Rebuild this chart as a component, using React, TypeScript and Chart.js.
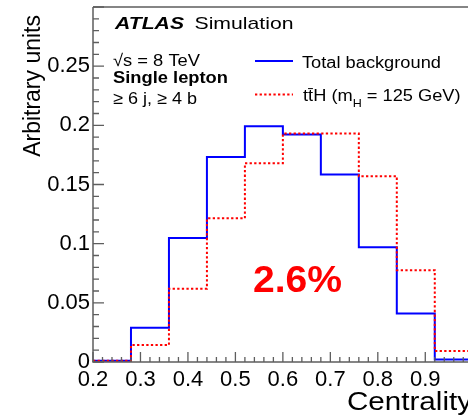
import React, { useEffect, useRef } from 'react';
import { Chart, registerables } from 'chart.js';

Chart.register(...registerables);

// ---- data ----
const binEdges = [0.2, 0.28, 0.36, 0.44, 0.52, 0.6, 0.68, 0.76, 0.84, 0.92, 1.0];
const totalBackground = [0.001, 0.0289, 0.1048, 0.1733, 0.1992, 0.1922, 0.1585, 0.0969, 0.041, 0.0022];
const ttH = [0.001, 0.0143, 0.062, 0.1214, 0.168, 0.193, 0.193, 0.157, 0.0775, 0.0093];
const xTicks = [0.2, 0.3, 0.4, 0.5, 0.6, 0.7, 0.8, 0.9];
const xTickLabels = ['0.2', '0.3', '0.4', '0.5', '0.6', '0.7', '0.8', '0.9'];
const yTicks = [0, 0.05, 0.1, 0.15, 0.2, 0.25];
const yTickLabels = ['0', '0.05', '0.1', '0.15', '0.2', '0.25'];
const legendLabels = ['Total background', 'tt\u0304H'];
const annotationText = '2.6%';

const X_MIN = 0.2;
const X_MAX = 0.99;
const Y_MIN = 0;
const Y_MAX = 0.3;
const X_MINOR = 0.02;
const Y_MINOR = 0.01;

const FONT = '"Liberation Sans", Arial, Helvetica, sans-serif';
const AXIS_COLOR = '#5e5e5e';

function toHist(vals: number[]) {
  const pts = vals.map((v, i) => ({ x: binEdges[i], y: v }));
  pts.push({ x: binEdges[binEdges.length - 1], y: vals[vals.length - 1] });
  return pts;
}

function drawText(
  ctx: CanvasRenderingContext2D,
  text: string,
  x: number,
  y: number,
  font: string,
  color: string,
  width?: number
) {
  ctx.save();
  ctx.font = font;
  ctx.fillStyle = color;
  ctx.textAlign = 'left';
  ctx.textBaseline = 'alphabetic';
  const w = ctx.measureText(text).width;
  const sx = width ? width / w : 1;
  ctx.translate(x, y);
  ctx.scale(sx, 1);
  ctx.fillText(text, 0, 0);
  ctx.restore();
  return w * sx;
}

const decorPlugin = {
  id: 'decor',
  afterDraw(chart: any) {
    const ctx: CanvasRenderingContext2D = chart.ctx;
    const { left, right, top, bottom } = chart.chartArea;
    const xs = chart.scales.x;
    const ys = chart.scales.y;

    ctx.save();
    ctx.setLineDash([]);
    ctx.strokeStyle = AXIS_COLOR;
    ctx.lineWidth = 1.5;
    ctx.beginPath();
    ctx.moveTo(left, top);
    ctx.lineTo(left, bottom);
    ctx.lineTo(right, bottom);
    ctx.moveTo(left, top);
    ctx.lineTo(right, top);
    ctx.stroke();

    // y ticks (inside)
    ctx.lineWidth = 1.3;
    ctx.beginPath();
    const ny = Math.round((Y_MAX - Y_MIN) / Y_MINOR);
    for (let k = 0; k <= ny; k++) {
      const v = Y_MIN + k * Y_MINOR;
      const py = ys.getPixelForValue(v);
      const major = k % 5 === 0;
      ctx.moveTo(left, py);
      ctx.lineTo(left + (major ? 11 : 6), py);
    }
    ctx.stroke();

    // x ticks (inside)
    ctx.lineWidth = 1.3;
    ctx.beginPath();
    const nx = Math.floor((X_MAX - X_MIN) / X_MINOR + 1e-6);
    for (let k = 0; k <= nx; k++) {
      const v = X_MIN + k * X_MINOR;
      const px = xs.getPixelForValue(v);
      const major = k % 5 === 0;
      ctx.moveTo(px, bottom);
      ctx.lineTo(px, bottom - (major ? 10 : 5));
    }
    ctx.stroke();
    ctx.restore();

    // axis titles
    ctx.save();
    ctx.font = `23px ${FONT}`;
    ctx.fillStyle = '#000';
    ctx.textAlign = 'right';
    ctx.textBaseline = 'alphabetic';
    ctx.translate(40, 15);
    ctx.rotate(-Math.PI / 2);
    ctx.fillText('Arbitrary units', 0, 0);
    ctx.restore();

    drawText(ctx, 'Centrality', 347, 410, `26px ${FONT}`, '#000', 125);

    // ATLAS label
    drawText(ctx, 'ATLAS', 115, 28.5, `italic bold 17px ${FONT}`, '#000', 69);
    drawText(ctx, 'Simulation', 194.5, 28.5, `17px ${FONT}`, '#000', 99);

    drawText(ctx, '\u221As = 8 TeV', 113, 66, `17px ${FONT}`, '#000', 87);
    drawText(ctx, 'Single lepton', 113, 83, `bold 17px ${FONT}`, '#000', 115);
    drawText(ctx, '\u2265 6 j, \u2265 4 b', 113, 104, `17px ${FONT}`, '#000', 84);

    // legend
    ctx.save();
    ctx.lineWidth = 2;
    ctx.strokeStyle = '#0000ff';
    ctx.beginPath();
    ctx.moveTo(255, 61);
    ctx.lineTo(293, 61);
    ctx.stroke();
    ctx.strokeStyle = '#ff0000';
    ctx.setLineDash([2.3, 2.3]);
    ctx.beginPath();
    ctx.moveTo(255, 94.5);
    ctx.lineTo(293, 94.5);
    ctx.stroke();
    ctx.restore();

    const sx = 1.14;
    const f16 = `16px ${FONT}`;
    ctx.save();
    ctx.font = f16;
    const w1 = ctx.measureText(legendLabels[0]).width;
    const wA = ctx.measureText(legendLabels[1] + ' (m').width;
    const wC = ctx.measureText(' = 125 GeV)').width;
    ctx.font = `11px ${FONT}`;
    const wB = ctx.measureText('H').width;
    ctx.restore();
    drawText(ctx, legendLabels[0], 302, 67.5, f16, '#000', w1 * sx);

    let x = 303;
    x += drawText(ctx, legendLabels[1] + ' (m', x, 101, f16, '#000', wA * sx);
    x += drawText(ctx, 'H', x, 106.5, `11px ${FONT}`, '#000', wB * sx);
    drawText(ctx, ' = 125 GeV)', x, 101, f16, '#000', wC * sx);

    // annotation
    drawText(ctx, annotationText, 253, 292, `bold 36px ${FONT}`, '#ff0000', 89);
  },
};

export default function App() {
  const canvasRef = useRef<HTMLCanvasElement | null>(null);

  useEffect(() => {
    if (!canvasRef.current) return;
    const chart = new Chart(canvasRef.current, {
      type: 'line',
      data: {
        datasets: [
          {
            label: 'ttH',
            data: toHist(ttH),
            borderColor: '#ff0000',
            borderWidth: 2,
            borderDash: [2.3, 2.3],
            stepped: 'before',
            pointRadius: 0,
            fill: false,
          },
          {
            label: 'Total background',
            data: toHist(totalBackground),
            borderColor: '#0000ff',
            borderWidth: 2,
            stepped: 'before',
            pointRadius: 0,
            fill: false,
          },
        ],
      },
      options: {
        animation: false,
        responsive: false,
        devicePixelRatio: 1,
        layout: { padding: { top: 7, left: 0, right: 0, bottom: 0 } },
        plugins: {
          legend: { display: false },
          tooltip: { enabled: false },
        },
        scales: {
          x: {
            type: 'linear',
            min: X_MIN,
            max: X_MAX,
            grid: { display: false, drawTicks: false },
            border: { display: false },
            ticks: {
              font: { family: FONT, size: 22, lineHeight: 1.0 },
              color: '#000',
              padding: 7,
              maxRotation: 0,
              autoSkip: false,
              callback: (_v: any, i: number) => xTickLabels[i],
            },
            afterBuildTicks: (s: any) => {
              s.ticks = xTicks.map((v) => ({ value: v }));
            },
            afterFit: (s: any) => {
              s.height = 58;
              s.paddingLeft = 0;
              s.paddingRight = 0;
            },
          },
          y: {
            type: 'linear',
            min: Y_MIN,
            max: Y_MAX,
            grid: { display: false, drawTicks: false },
            border: { display: false },
            ticks: {
              font: { family: FONT, size: 22 },
              color: '#000',
              padding: 3,
              autoSkip: false,
              callback: (_v: any, i: number) => yTickLabels[i],
            },
            afterBuildTicks: (s: any) => {
              s.ticks = yTicks.map((v) => ({ value: v }));
            },
            afterFit: (s: any) => {
              s.width = 93;
              s.paddingTop = 0;
              s.paddingBottom = 0;
            },
          },
        },
      },
      plugins: [decorPlugin],
    } as any);
    return () => chart.destroy();
  }, []);

  return (
    <div style={{ position: 'absolute', left: 0, top: 0, width: 468, height: 420, background: '#fff' }}>
      <canvas ref={canvasRef} width={468} height={420} style={{ display: 'block' }} />
    </div>
  );
}
